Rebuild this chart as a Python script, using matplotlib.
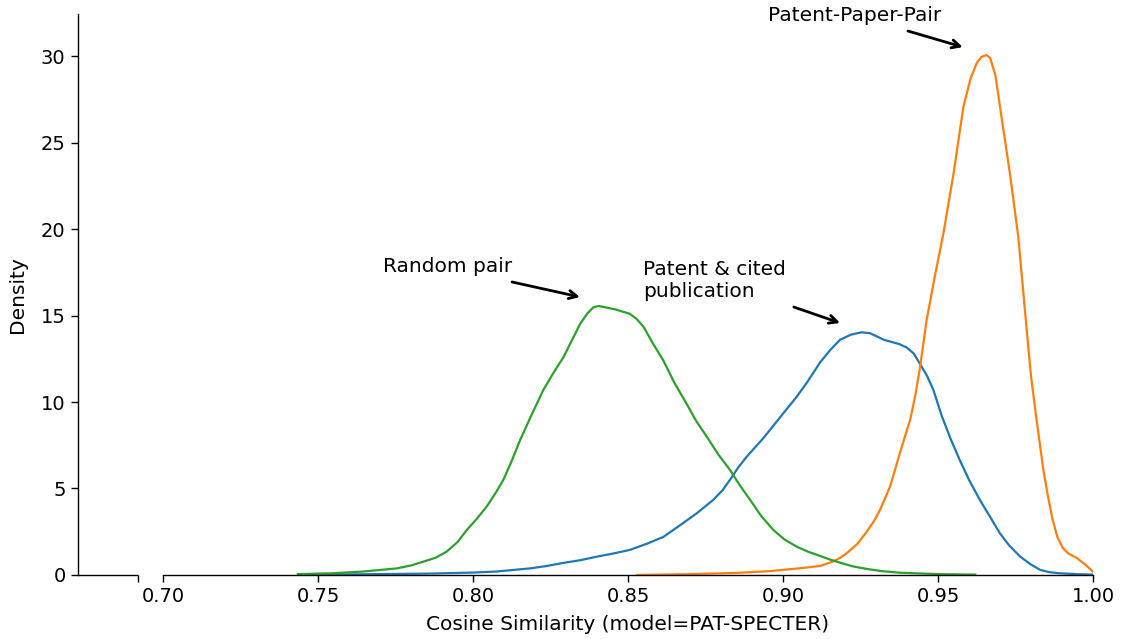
import matplotlib
matplotlib.use("Agg")
import matplotlib.pyplot as plt

# densities of the cosine similarity for the three kinds of pairs
cited_x = [0.745, 0.77, 0.786, 0.8, 0.8076, 0.8184, 0.8238, 0.8292, 0.8345, 0.84,
           0.8455, 0.8506, 0.856, 0.8614, 0.867, 0.8722, 0.8775, 0.8805, 0.8829, 0.8855,
           0.8883, 0.8936, 0.899, 0.9044, 0.908, 0.912, 0.9152, 0.9184, 0.922, 0.9254,
           0.928, 0.9302, 0.9325, 0.9345, 0.9375, 0.9399, 0.9422, 0.9442, 0.9465, 0.9485,
           0.9512, 0.954, 0.957, 0.960, 0.9635, 0.967, 0.970, 0.973, 0.9765, 0.980,
           0.983, 0.986, 0.989, 0.9945, 1.0]
cited_y = [0.01, 0.05, 0.08, 0.14, 0.2, 0.38, 0.52, 0.7, 0.85, 1.06,
           1.25, 1.45, 1.8, 2.2, 2.9, 3.57, 4.34, 4.9, 5.5, 6.2,
           6.84, 7.9, 9.1, 10.3, 11.2, 12.3, 13.0, 13.6, 13.9, 14.03,
           13.98, 13.8, 13.6, 13.5, 13.35, 13.15, 12.8, 12.2, 11.5, 10.7,
           9.2, 7.9, 6.65, 5.5, 4.34, 3.3, 2.4, 1.7, 1.06, 0.6,
           0.29, 0.16, 0.1, 0.05, 0.02]

pair_x = [0.853, 0.87, 0.885, 0.8955, 0.9055, 0.912, 0.916, 0.9185, 0.9205, 0.924,
          0.927, 0.9293, 0.9313, 0.9345, 0.936, 0.9377, 0.9395, 0.941, 0.9427, 0.9442,
          0.9463, 0.949, 0.9517, 0.955, 0.9582, 0.9605, 0.9625, 0.964, 0.9656, 0.9668,
          0.9685, 0.970, 0.9732, 0.9759, 0.9786, 0.980, 0.9818, 0.984, 0.9855, 0.987,
          0.9885, 0.9903, 0.992, 0.9948, 0.9975, 1.0]
pair_y = [0.0, 0.05, 0.12, 0.22, 0.39, 0.52, 0.77, 1.0, 1.25, 1.8,
          2.5, 3.1, 3.76, 5.1, 6.0, 7.05, 8.1, 8.96, 10.4, 12.0,
          14.7, 17.3, 19.7, 23.2, 27.07, 28.7, 29.6, 29.95, 30.06, 29.9,
          28.9, 27.07, 23.2, 19.55, 14.2, 11.5, 8.96, 6.07, 4.5, 3.18,
          2.2, 1.55, 1.25, 0.98, 0.6, 0.19]

random_x = [0.7435, 0.755, 0.7646, 0.7754, 0.78, 0.784, 0.788, 0.7915, 0.795, 0.798,
            0.801, 0.8044, 0.8075, 0.8098, 0.8125, 0.8152, 0.819, 0.8227, 0.826, 0.8292,
            0.832, 0.8345, 0.8368, 0.8388, 0.8405, 0.842, 0.846, 0.8506, 0.8528, 0.855,
            0.858, 0.8614, 0.865, 0.8689, 0.872, 0.8754, 0.879, 0.8829, 0.886, 0.8894,
            0.893, 0.8969, 0.9005, 0.9044, 0.908, 0.912, 0.915, 0.9184, 0.9225, 0.927,
            0.932, 0.9377, 0.95, 0.962]
random_y = [0.05, 0.1, 0.2, 0.38, 0.55, 0.77, 1.0, 1.35, 1.9, 2.6,
            3.2, 3.95, 4.8, 5.5, 6.6, 7.8, 9.3, 10.7, 11.7, 12.6,
            13.6, 14.5, 15.1, 15.47, 15.55, 15.5, 15.35, 15.1, 14.8, 14.35,
            13.4, 12.4, 11.1, 9.9, 8.9, 8.0, 7.0, 6.07, 5.2, 4.34,
            3.4, 2.6, 2.05, 1.64, 1.35, 1.1, 0.9, 0.71, 0.5, 0.35,
            0.22, 0.13, 0.05, 0.02]

xticks = [0.70, 0.75, 0.80, 0.85, 0.90, 0.95, 1.00]
yticks = [0, 5, 10, 15, 20, 25, 30]

plt.rcParams['font.size'] = 14.5

fig = plt.figure(figsize=(11.23, 6.39), dpi=100)
ax = fig.add_axes([0.0695, 0.1002, 0.9038, 0.8778])

ax.plot(cited_x, cited_y, color='tab:blue', lw=1.6)
ax.plot(pair_x, pair_y, color='tab:orange', lw=1.6)
ax.plot(random_x, random_y, color='tab:green', lw=1.6)

xmin = 0.6726
ax.set_xlim(xmin, 1.0)
ax.set_ylim(0, 32.43)
ax.set_xticks(xticks)
ax.set_xticklabels(['%.2f' % t for t in xticks])
ax.set_yticks(yticks)
ax.set_xticks([0.692], minor=True)
ax.tick_params(which='both', length=5, width=1.0, pad=4, labelsize=14)

for s in ['top', 'right']:
    ax.spines[s].set_visible(False)
ax.spines['left'].set_linewidth(1.0)
ax.spines['bottom'].set_linewidth(1.0)
ax.spines['bottom'].set_bounds(0.70, 1.00)
# short piece of the x axis left of the break
ax.plot([xmin, 0.692], [0, 0], color='black', lw=1.0, clip_on=False,
        solid_capstyle='butt')

ax.set_xlabel('Cosine Similarity (model=PAT-SPECTER)')
ax.set_ylabel('Density')
ax.xaxis.set_label_coords(0.5419, -0.072)
ax.yaxis.set_label_coords(-0.050, 0.5)

arrow = dict(arrowstyle='->', lw=2, color='black', shrinkA=0, shrinkB=0)
ax.text(0.771, 17.86, 'Random pair', ha='left', va='center')
ax.annotate('', xy=(0.8345, 16.07), xytext=(0.8126, 16.94), arrowprops=arrow)
ax.text(0.8548, 17.05, 'Patent & cited\npublication', ha='left', va='center')
ax.annotate('', xy=(0.9184, 14.57), xytext=(0.9035, 15.49), arrowprops=arrow)
ax.text(0.8952, 32.37, 'Patent-Paper-Pair', ha='left', va='center', clip_on=False)
ax.annotate('', xy=(0.958, 30.52), xytext=(0.9403, 31.45), arrowprops=arrow,
            annotation_clip=False)

fig.savefig('out.png', dpi=100)
